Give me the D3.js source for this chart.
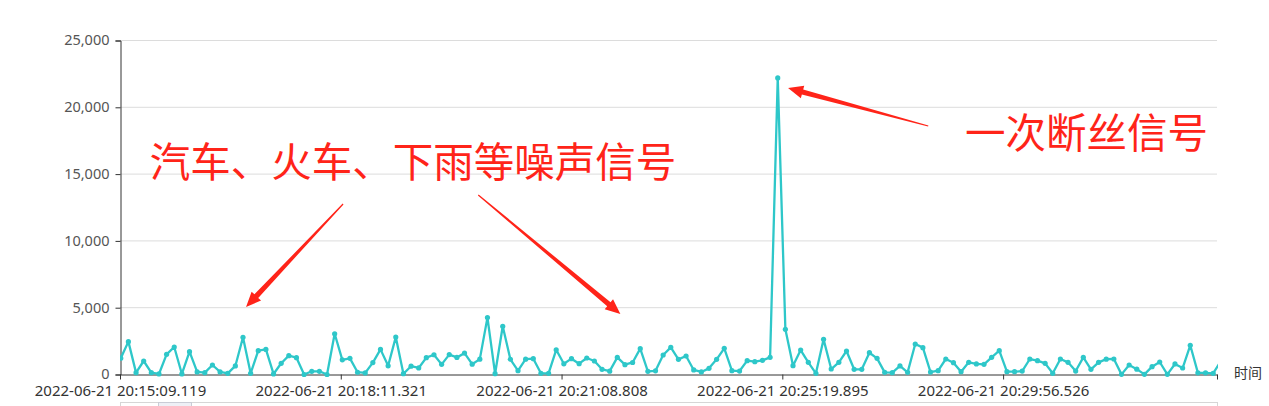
<!DOCTYPE html>
<html><head><meta charset="utf-8">
<script src="https://cdn.jsdelivr.net/npm/d3@7"></script>
<style>
html,body{margin:0;padding:0;background:#fff;}
svg{display:block;font-family:"Noto Sans",sans-serif;}
</style>
</head><body>
<svg id="chart" width="1269" height="406"></svg>
<script>
// ---- data ----
const signalValues = [
  1220,2460,140,1010,140,40,1510,2060,40,1710,
  190,140,710,190,90,640,2790,90,1780,1880,
  40,840,1410,1260,0,240,240,0,3050,1100,
  1210,170,120,890,1880,650,2800,60,620,490,
  1260,1480,760,1490,1280,1600,770,1150,4260,60,
  3610,1140,290,1150,1185,90,90,1850,800,1185,
  810,1235,1010,390,250,1280,735,900,1935,235,
  275,1460,2030,1135,1385,340,190,460,1135,1960,
  290,260,1035,960,1060,1285,22200,3380,660,1830,
  910,90,2630,410,910,1760,390,390,1630,1210,
  160,140,640,160,2280,2010,180,290,1160,885,
  210,910,790,760,1285,1780,210,210,260,1160,
  1035,835,90,1160,910,260,1285,390,910,1150,
  1160,10,710,400,10,585,935,10,790,485,
  2185,125,125,90,1000
];
const xTickIndex = [-0.1, 28.8, 57.7, 86.6, 115.5, 143.5];
const xTickLabels = [
  "2022-06-21 20:15:09.119",
  "2022-06-21 20:18:11.321",
  "2022-06-21 20:21:08.808",
  "2022-06-21 20:25:19.895",
  "2022-06-21 20:29:56.526",
  ""
];
const yTickValues = [0, 5000, 10000, 15000, 20000, 25000];
const xAxisName = "时间";
const noteTexts = ["汽车、火车、下雨等噪声信号", "一次断丝信号"];
const noteAnchors = [[3.8, 16100], [110.5, 18250]];   // [index, value]
const arrowTails = [[29.1, 12760], [46.8, 13440], [105.7, 18600]];
const arrowTips  = [[16.4, 5050], [65.4, 4530], [87.35, 21440]];

// ---- layout ----
const W = 1269, H = 406;
const gLeft = 120, gRight = 1217, gTop = 40.5, gBottom = 374.5;
const lineColor = "#2ec7c9";
const red = "#ff2419";

const svg = d3.select("#chart");
svg.append("rect").attr("width", W).attr("height", H).attr("fill", "#fff");

const x = d3.scaleLinear().domain([-0.1, 143.5]).range([gLeft, gRight]);
const y = d3.scaleLinear().domain([0, 25000]).range([gBottom, gTop]);

// grid lines
svg.append("g").selectAll("line").data(yTickValues.filter(v => v > 0)).join("line")
  .attr("x1", gLeft).attr("x2", gRight)
  .attr("y1", d => y(d)).attr("y2", d => y(d))
  .attr("stroke", "#dcdcdc").attr("stroke-width", 1);

// y axis
const yAxis = d3.axisLeft(y).tickValues(yTickValues).tickSize(5).tickPadding(6)
  .tickFormat(d3.format(","));
const gy = svg.append("g").attr("transform", `translate(${gLeft + 0.5},0)`).call(yAxis);
gy.select(".domain").attr("stroke", "#333");
gy.selectAll(".tick line").attr("stroke", "#333");
gy.selectAll("text").attr("fill", "#555").attr("dy", "0.3em").style("font-size", "14.5px")
  .style("font-family", '"Noto Sans", sans-serif');

// x axis
const xAxis = d3.axisBottom(x).tickValues(xTickIndex).tickSize(5).tickSizeOuter(0).tickPadding(6)
  .tickFormat((d, i) => xTickLabels[i]);
const gx = svg.append("g").attr("transform", `translate(0,${gBottom})`).call(xAxis);
gx.select(".domain").attr("stroke", "#333");
gx.selectAll(".tick line").attr("stroke", "#333");
gx.selectAll("text").attr("fill", "#333").style("font-size", "15px")
  .style("font-family", '"Noto Sans", sans-serif');

svg.append("text").attr("x", 1234).attr("y", gBottom)
  .attr("dominant-baseline", "middle").attr("fill", "#333")
  .style("font-size", "14px").style("font-family", '"Noto Sans CJK SC", sans-serif')
  .text(xAxisName);

// clip
svg.append("clipPath").attr("id", "grid").append("rect")
  .attr("x", gLeft).attr("y", 0).attr("width", gRight - gLeft + 1).attr("height", gBottom + 3);

const plot = svg.append("g").attr("clip-path", "url(#grid)");
const line = d3.line().x((d, i) => x(i)).y(d => y(d));
plot.append("path").datum(signalValues).attr("d", line)
  .attr("fill", "none").attr("stroke", lineColor).attr("stroke-width", 2.3)
  .attr("stroke-linejoin", "round");
plot.selectAll("circle").data(signalValues).join("circle")
  .attr("cx", (d, i) => x(i)).attr("cy", d => y(d)).attr("r", 2.6)
  .attr("fill", lineColor);

// slider (data zoom) at bottom
svg.append("rect").attr("x", gLeft + 0.5).attr("y", 402.5).attr("width", gRight - gLeft).attr("height", 30)
  .attr("fill", "#fff").attr("stroke", "#d6d6d6");
svg.append("rect").attr("x", 158.5).attr("y", 402.5).attr("width", 33).attr("height", 30)
  .attr("fill", "#eef0f6").attr("stroke", "#c9ccd6");

// annotations
svg.append("g").selectAll("text").data(noteTexts).join("text")
  .attr("x", (d, i) => x(noteAnchors[i][0])).attr("y", (d, i) => y(noteAnchors[i][1]))
  .attr("dominant-baseline", "central").attr("fill", red)
  .style("font-size", "40.5px").style("font-family", '"Noto Sans CJK SC", sans-serif')
  .text(d => d);

function arrowPath(t, h) {
  const x1 = x(t[0]), y1 = y(t[1]), x2 = x(h[0]), y2 = y(h[1]);
  const dx = x2 - x1, dy = y2 - y1, len = Math.hypot(dx, dy);
  const ux = dx / len, uy = dy / len, nx = -uy, ny = ux;
  const headL = 15, headW = 6.5, w0 = 0.6, w1 = 2.6;
  const bx = x2 - ux * headL, by = y2 - uy * headL;
  const pts = [
    [x1 + nx * w0, y1 + ny * w0],
    [bx + nx * w1, by + ny * w1],
    [bx + nx * headW, by + ny * headW],
    [x2, y2],
    [bx - nx * headW, by - ny * headW],
    [bx - nx * w1, by - ny * w1],
    [x1 - nx * w0, y1 - ny * w0]
  ];
  return "M" + pts.map(p => p.join(",")).join("L") + "Z";
}
svg.append("g").selectAll("path").data(arrowTails).join("path")
  .attr("d", (d, i) => arrowPath(d, arrowTips[i]))
  .attr("fill", red);
</script>
</body></html>
